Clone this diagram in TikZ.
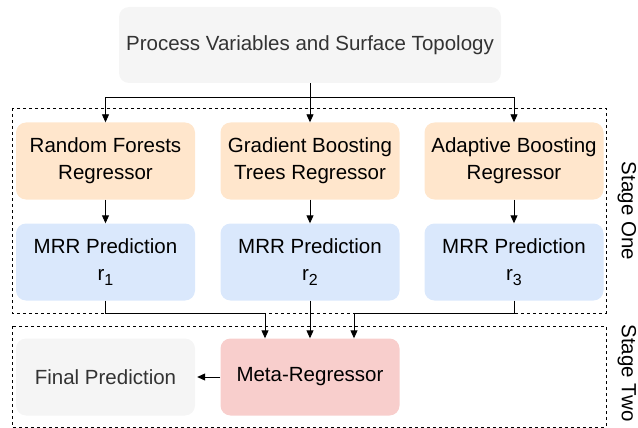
\documentclass[tikz,border=0pt]{standalone}
\usepackage{fontspec}
\setmainfont{Liberation Sans}
\usetikzlibrary{arrows.meta}
\definecolor{grayfill}{HTML}{F5F5F5}
\definecolor{orangefill}{HTML}{FFE6CC}
\definecolor{bluefill}{HTML}{DAE8FC}
\definecolor{redfill}{HTML}{F8CECC}
\definecolor{graytext}{HTML}{333333}
\newcommand{\rsub}[1]{r\raisebox{-5pt}{\fontsize{16}{16}\selectfont #1}}
\tikzset{
  box/.style={rounded corners=10pt, inner sep=0pt, align=center, minimum width=179pt, minimum height=77pt, font=\fontsize{20.5}{27}\selectfont},
  conn/.style={-{Triangle[length=8pt,width=7pt]}, line width=0.9pt},
  stagebox/.style={dashed, line width=0.8pt},
  stagelabel/.style={rotate=-90, font=\fontsize{20.5}{24}\selectfont},
}
\begin{document}
\begin{tikzpicture}[x=1pt,y=-1pt]
\useasboundingbox (0,0) rectangle (638,428);
% stage boxes
\draw[stagebox] (12,108) rectangle (606,313);
\draw[stagebox] (12,326) rectangle (606,427);
\node[stagelabel] (s1) at (627,211) {Stage One};
\node[stagelabel] (s2) at (627,373) {Stage Two};
% top
\node[box, fill=grayfill, text=graytext, minimum width=382pt, minimum height=76pt] (top) at (310,45) {Process Variables and Surface Topology};
% regressors
\node[box, fill=orangefill] (rf) at (105.5,161) {Random Forests\\Regressor};
\node[box, fill=orangefill] (gb) at (310,161) {Gradient Boosting\\Trees Regressor};
\node[box, fill=orangefill] (ab) at (514,161) {Adaptive Boosting\\Regressor};
% predictions
\node[box, fill=bluefill] (p1) at (105.5,262) {MRR Prediction\\\rsub{1}};
\node[box, fill=bluefill] (p2) at (310,262) {MRR Prediction\\\rsub{2}};
\node[box, fill=bluefill] (p3) at (514,262) {MRR Prediction\\\rsub{3}};
% stage two
\node[box, fill=redfill] (meta) at (310,377) {Meta-Regressor};
\node[box, fill=grayfill, text=graytext] (final) at (105.5,377) {Final Prediction};
% connectors
\coordinate (split) at (310,97);
\coordinate (j1) at (265,313);
\coordinate (j3) at (354,313);
\draw[line width=0.9pt] (top.south) -- (split);
\draw[conn] (split) -| (rf.north);
\draw[conn] (split) -- (gb.north);
\draw[conn] (split) -| (ab.north);
\draw[conn] (rf) -- (p1);
\draw[conn] (gb) -- (p2);
\draw[conn] (ab) -- (p3);
\draw[conn] (p1.south) |- (j1) -- (j1 |- meta.north);
\draw[conn] (p2.south) -- (meta.north);
\draw[conn] (p3.south) |- (j3) -- (j3 |- meta.north);
\draw[conn] (meta.west) -- ([xshift=2pt]final.east);
\end{tikzpicture}
\end{document}
